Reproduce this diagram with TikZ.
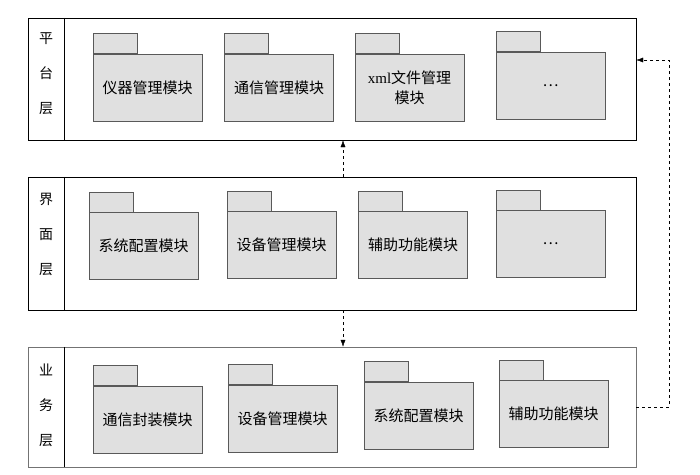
\documentclass[tikz,border=0pt]{standalone}
\usepackage{fontspec}
\usetikzlibrary{arrows.meta}
\setmainfont{Liberation Serif}
\newfontfamily\cjk{Noto Sans CJK SC}
\newfontfamily\lat{Liberation Serif}

\begin{document}
\begin{tikzpicture}[x=1pt, y=-1pt,
	layer/.style = {draw, minimum width=608pt, inner sep=0pt},
	side/.style = {align=center, font=\cjk\fontsize{14}{35}\selectfont},
	pkg/.style = {draw=black!65, fill=black!12, minimum width=109pt, minimum height=67pt, inner sep=1pt, align=center, font=\cjk\fontsize{15}{20}\selectfont},
	tab/.style = {draw=black!65, fill=black!12, minimum width=44pt, minimum height=20pt, inner sep=0pt, anchor=south west},
	dep/.style = {dashed, -{Latex[length=7pt,width=5pt]}}]
	\useasboundingbox (0,0) rectangle (700,474);
	% layers
	\node[layer, minimum height=122pt] (L1) at (332,79) {};
	\node[layer, minimum height=133pt] (L2) at (332,243.5) {};
	\node[layer, draw=black!55, minimum height=120pt] (L3) at (332,407) {};
	\draw ([xshift=36pt]L1.north west) -- ([xshift=36pt]L1.south west);
	\draw ([xshift=36pt]L2.north west) -- ([xshift=36pt]L2.south west);
	\draw ([xshift=36pt]L3.north west) -- ([xshift=36pt]L3.south west);
	\node[side] (s1) at (46,74) {平\\台\\层};
	\node[side] (s2) at (46,234) {界\\面\\层};
	\node[side] (s3) at (46,405) {业\\务\\层};
	% platform layer
	\node[pkg] (p11) at (147.5,87.5) {仪器管理模块};
	\node[pkg] (p12) at (279,87.5) {通信管理模块};
	\node[pkg] (p13) at (409.5,87.5) {{\lat xml}文件管理\\模块};
	\node[pkg] (p14) at (550.5,85.5) {…};
	\node[tab] (t11) at (p11.north west) {};
	\node[tab] (t12) at (p12.north west) {};
	\node[tab] (t13) at (p13.north west) {};
	\node[tab] (t14) at (p14.north west) {};
	% interface layer
	\node[pkg] (p21) at (143.5,246) {系统配置模块};
	\node[pkg] (p22) at (281.5,245) {设备管理模块};
	\node[pkg] (p23) at (413,245) {辅助功能模块};
	\node[pkg] (p24) at (550.5,244) {…};
	\node[tab] (t21) at (p21.north west) {};
	\node[tab] (t22) at (p22.north west) {};
	\node[tab] (t23) at (p23.north west) {};
	\node[tab] (t24) at (p24.north west) {};
	% business layer
	\node[pkg] (p31) at (147.5,419.5) {通信封装模块};
	\node[pkg] (p32) at (282.5,418.5) {设备管理模块};
	\node[pkg] (p33) at (418.5,415.5) {系统配置模块};
	\node[pkg] (p34) at (553.5,414) {辅助功能模块};
	\node[tab] (t31) at (p31.north west) {};
	\node[tab] (t32) at (p32.north west) {};
	\node[tab] (t33) at (p33.north west) {};
	\node[tab] (t34) at (p34.north west) {};
	% dependencies
	\draw[dep] ([xshift=11pt]L2.north) -- ([xshift=11pt]L1.south);
	\draw[dep] ([xshift=11pt]L2.south) -- ([xshift=11pt]L3.north);
	\draw[dep] (L3.east) -- ++(33,0) |- ([yshift=19pt]L1.east);
\end{tikzpicture}
\end{document}
